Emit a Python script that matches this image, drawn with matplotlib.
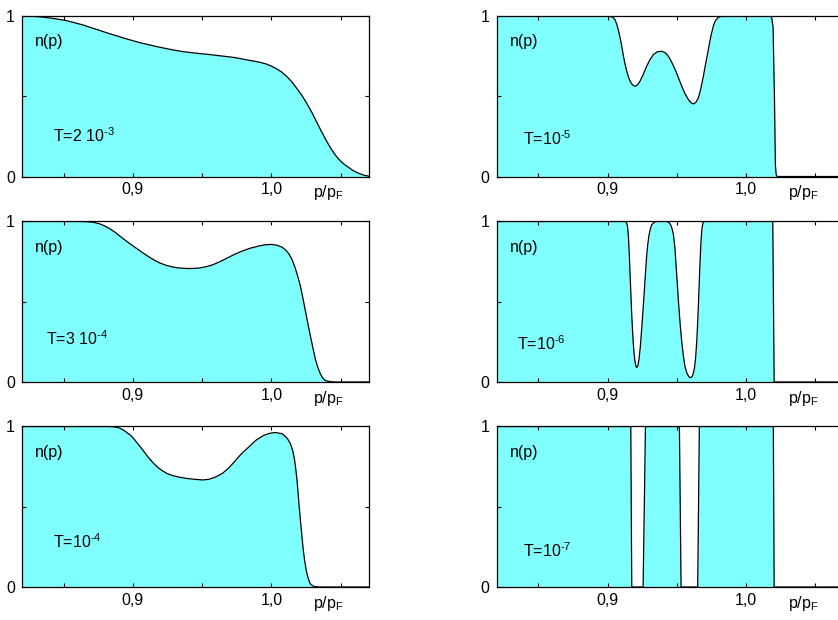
import matplotlib
matplotlib.use("Agg")
import matplotlib.pyplot as plt
from matplotlib.ticker import FixedLocator, FuncFormatter

plt.rcParams['font.family'] = ['Liberation Sans', 'DejaVu Sans']
plt.rcParams['mathtext.fontset'] = 'custom'
plt.rcParams['mathtext.rm'] = 'Liberation Sans'
plt.rcParams['mathtext.default'] = 'regular'
plt.rcParams['font.size'] = 11.5

# n(p), one pair of lists per temperature
p_a = [0.82, 0.828, 0.8353, 0.844, 0.8521, 0.858, 0.8641, 0.870, 0.8761, 0.882,
       0.8881, 0.894, 0.9001, 0.906, 0.9121, 0.918, 0.9241, 0.930, 0.9361, 0.942,
       0.948, 0.954, 0.96, 0.966, 0.972, 0.978, 0.984, 0.991, 0.996, 1.0,
       1.004, 1.0076, 1.011, 1.0148, 1.018, 1.022, 1.0256, 1.0292, 1.0328, 1.0364,
       1.0394, 1.0424, 1.0454, 1.0484, 1.052, 1.0556, 1.059, 1.0628, 1.0665, 1.0705]
n_a = [1.0, 0.998, 0.993, 0.983, 0.971, 0.958, 0.944, 0.927, 0.91, 0.893,
       0.877, 0.861, 0.846, 0.832, 0.82, 0.808, 0.797, 0.787, 0.778, 0.772,
       0.766, 0.761, 0.755, 0.749, 0.743, 0.734, 0.724, 0.713, 0.702, 0.688,
       0.67, 0.65, 0.624, 0.59, 0.553, 0.506, 0.455, 0.40, 0.338, 0.277,
       0.228, 0.183, 0.143, 0.11, 0.08, 0.058, 0.037, 0.021, 0.009, 0.002]

p_b = [0.82, 0.86, 0.865, 0.869, 0.8725, 0.8761, 0.8797, 0.8833, 0.887, 0.8905,
       0.895, 0.9001, 0.905, 0.9097, 0.9145, 0.9193, 0.924, 0.9289, 0.9337, 0.9385,
       0.943, 0.948, 0.953, 0.9577, 0.9625, 0.9672, 0.972, 0.9768, 0.981, 0.985,
       0.9909, 0.995, 1.0, 1.004, 1.0077, 1.0102, 1.0125, 1.015, 1.0173, 1.019,
       1.0209, 1.0227, 1.0245, 1.0263, 1.0281, 1.03, 1.0317, 1.0335, 1.0353, 1.037,
       1.0388, 1.0424, 1.046, 1.0705]
n_b = [1.0, 1.0, 0.999, 0.997, 0.993, 0.985, 0.972, 0.955, 0.934, 0.910,
       0.880, 0.848, 0.818, 0.790, 0.764, 0.742, 0.727, 0.716, 0.71, 0.707,
       0.707, 0.71, 0.718, 0.73, 0.748, 0.768, 0.789, 0.808, 0.822, 0.834,
       0.847, 0.854, 0.857, 0.852, 0.84, 0.823, 0.80, 0.762, 0.708, 0.66,
       0.60, 0.525, 0.446, 0.366, 0.29, 0.213, 0.145, 0.092, 0.052, 0.026,
       0.01, 0.002, 0.0, 0.0]

p_c = [0.82, 0.8833, 0.887, 0.8905, 0.893, 0.8953, 0.898, 0.9001, 0.9037, 0.9073,
       0.911, 0.9145, 0.918, 0.9217, 0.925, 0.9289, 0.9337, 0.9385, 0.9445, 0.9505,
       0.955, 0.96, 0.965, 0.9696, 0.9735, 0.9768, 0.98, 0.9837, 0.9885, 0.9945,
       0.999, 1.0029, 1.0077, 1.0113, 1.013, 1.0144, 1.0157, 1.0168, 1.0177, 1.0185,
       1.0193, 1.0201, 1.0211, 1.0221, 1.023, 1.024, 1.0249, 1.0257, 1.0268, 1.0281,
       1.03, 1.0317, 1.035, 1.0705]
n_c = [1.0, 1.0, 0.997, 0.99, 0.979, 0.965, 0.948, 0.93, 0.892, 0.852,
       0.81, 0.775, 0.745, 0.722, 0.706, 0.694, 0.684, 0.677, 0.671, 0.667,
       0.671, 0.686, 0.71, 0.745, 0.782, 0.815, 0.843, 0.872, 0.912, 0.945,
       0.958, 0.9625, 0.955, 0.928, 0.905, 0.877, 0.84, 0.79, 0.73, 0.667,
       0.585, 0.5, 0.405, 0.3125, 0.235, 0.167, 0.118, 0.083, 0.048, 0.02,
       0.007, 0.002, 0.0, 0.0]

p_d = [0.82, 0.9, 0.9025, 0.9043, 0.9055, 0.9067, 0.9079, 0.9091, 0.9103, 0.9115,
       0.9127, 0.9139, 0.9151, 0.9163, 0.918, 0.9199, 0.9217, 0.9235, 0.926, 0.9283,
       0.9307, 0.9331, 0.936, 0.9391, 0.9415, 0.9439, 0.9463, 0.9488, 0.9512, 0.9536,
       0.956, 0.9584, 0.9602, 0.962, 0.9638, 0.9656, 0.9674, 0.9692, 0.971, 0.9728,
       0.974, 0.9752, 0.9764, 0.9776, 0.9794, 0.9812, 0.9848, 1.0175, 1.0185, 1.0195,
       1.0205, 1.0212, 1.0218, 1.0225, 1.0705]
n_d = [1.0, 1.0, 0.997, 0.99, 0.975, 0.948, 0.91, 0.865, 0.81, 0.75,
       0.70, 0.656, 0.62, 0.594, 0.571, 0.5625, 0.571, 0.594, 0.64, 0.6875,
       0.728, 0.76, 0.777, 0.78, 0.772, 0.75, 0.713, 0.667, 0.615, 0.5625,
       0.515, 0.479, 0.46, 0.452, 0.462, 0.49, 0.548, 0.625, 0.71, 0.79,
       0.848, 0.896, 0.937, 0.966, 0.987, 0.996, 1.0, 1.0, 0.99, 0.93,
       0.5, 0.07, 0.01, 0.0, 0.0]

p_e = [0.82, 0.913, 0.9139, 0.9145, 0.9151, 0.9157, 0.9163, 0.9169, 0.9175, 0.9181,
       0.9187, 0.9193, 0.9199, 0.9205, 0.9211, 0.9219, 0.9228, 0.9237, 0.9247, 0.9257,
       0.9267, 0.9275, 0.9283, 0.9291, 0.93, 0.931, 0.9319, 0.9335, 0.9355, 0.9427,
       0.9442, 0.9456, 0.9466, 0.9476, 0.9486, 0.9495, 0.9504, 0.9514, 0.9525, 0.9536,
       0.9548, 0.956, 0.9572, 0.9584, 0.9593, 0.9603, 0.9615, 0.9627, 0.9636, 0.9644,
       0.9651, 0.9658, 0.9664, 0.967, 0.9676, 0.9682, 0.9689, 0.9696, 1.0193, 1.0198,
       1.0203, 1.0705]
n_e = [1.0, 1.0, 0.99, 0.965, 0.906, 0.80, 0.667, 0.54, 0.417, 0.315,
       0.229, 0.168, 0.125, 0.10, 0.09, 0.10, 0.146, 0.22, 0.333, 0.455,
       0.583, 0.69, 0.79, 0.86, 0.917, 0.955, 0.979, 0.994, 1.0, 1.0,
       0.994, 0.979, 0.955, 0.917, 0.84, 0.729, 0.61, 0.479, 0.355, 0.25,
       0.16, 0.094, 0.058, 0.0375, 0.029, 0.027, 0.04, 0.083, 0.15, 0.25,
       0.37, 0.52, 0.66, 0.79, 0.89, 0.958, 0.99, 1.0, 1.0, 0.5,
       0.0, 0.0]

p_f = [0.82, 0.9168, 0.9175, 0.9257, 0.9274, 0.9519, 0.9531, 0.9651, 0.9663,
       1.0197, 1.0203, 1.0705]
n_f = [1.0, 1.0, 0.0, 0.0, 1.0, 1.0, 0.0, 0.0, 1.0,
       1.0, 0.0, 0.0]

panels = [
    (p_a, n_a, 'T=2 10$^{\u20103}$', 0.09, 0.217),
    (p_d, n_d, 'T=10$^{\u20105}$', 0.077, 0.196),
    (p_b, n_b, 'T=3 10$^{\u20104}$', 0.07, 0.23),
    (p_e, n_e, 'T=10$^{\u20106}$', 0.058, 0.20),
    (p_c, n_c, 'T=10$^{\u20104}$', 0.09, 0.24),
    (p_f, n_f, 'T=10$^{\u20107}$', 0.077, 0.19),
]

fig = plt.figure(figsize=(8.38, 6.2), dpi=100)
col_x = [0.02625, 0.5927]
row_y = [0.7153, 0.3839, 0.0532]
w, h = 0.4141, 0.2589

comma = FuncFormatter(lambda v, pos: f"{v:.1f}".replace('.', ','))

for i, (px, ny, tlabel, tx, ty) in enumerate(panels):
    ax = fig.add_axes([col_x[i % 2], row_y[i // 2], w, h])
    ax.fill_between(px, ny, 0, color='#80ffff', linewidth=0)
    ax.plot(px, ny, color='black', linewidth=0.9)
    ax.set_xlim(0.82, 1.0705)
    ax.set_ylim(0, 1)
    ax.xaxis.set_major_locator(FixedLocator([0.9, 1.0]))
    ax.xaxis.set_minor_locator(FixedLocator([0.85, 0.95, 1.05]))
    ax.xaxis.set_major_formatter(comma)
    ax.yaxis.set_major_locator(FixedLocator([0, 1]))
    ax.yaxis.set_minor_locator(FixedLocator([0.5]))
    ax.yaxis.set_major_formatter(FuncFormatter(lambda v, pos: f"{int(v)}"))
    ax.tick_params(which='both', direction='in', top=True, right=True,
                   length=3, width=0.8)
    ax.tick_params(axis='x', pad=4)
    ax.tick_params(axis='y', pad=5)
    for s in ax.spines.values():
        s.set_linewidth(0.9)
    ax.text(0.037, 0.81, 'n(p)', transform=ax.transAxes, va='baseline', ha='left')
    ax.text(tx, ty, tlabel, transform=ax.transAxes, va='baseline', ha='left')
    ax.text(0.839, -0.13, 'p/p$_F$', transform=ax.transAxes, va='baseline', ha='left')

fig.savefig('out.png', dpi=100)
